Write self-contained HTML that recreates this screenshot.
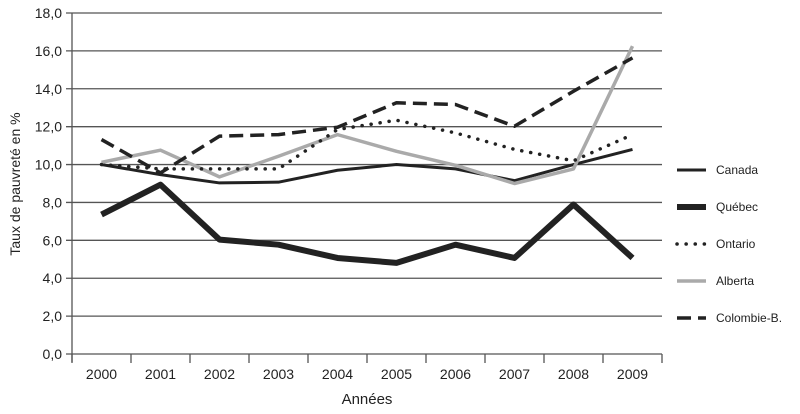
<!DOCTYPE html>
<html><head><meta charset="utf-8"><style>
body{margin:0;background:#fff;}
svg{display:block;font-family:"Liberation Sans",sans-serif;}
</style></head><body>
<svg id="chart" width="800" height="414" viewBox="0 0 800 414">
<g id="grid"></g>
<g id="yaxis"></g>
<g id="xaxis"></g>
<g id="series"></g>
<g id="legend"></g>
<text x="20" y="184" transform="rotate(-90 20 184)" text-anchor="middle" font-size="14" fill="#222">Taux de pauvreté en %</text>
<text x="367" y="404" text-anchor="middle" font-size="15" fill="#222">Années</text>
</svg>
<script>
const years=["2000","2001","2002","2003","2004","2005","2006","2007","2008","2009"];
const yTicks=[0,2,4,6,8,10,12,14,16,18];
const canada=[10.0,9.47,9.03,9.07,9.7,10.0,9.77,9.15,10.0,10.8];
const quebec=[7.36,8.94,6.04,5.77,5.07,4.81,5.77,5.07,7.89,5.07];
const ontario=[10.0,9.77,9.77,9.77,11.85,12.34,11.67,10.8,10.2,11.58];
const alberta=[10.12,10.76,9.35,10.44,11.58,10.7,9.96,9.0,9.77,16.25];
const colombie=[11.32,9.56,11.5,11.58,11.97,13.26,13.17,12.02,13.87,15.63];
const seriesNames=["Canada","Québec","Ontario","Alberta","Colombie-B."];
const NS="http://www.w3.org/2000/svg";
const X0=72,X1=662,Y0=354,Y1=13,YMAX=18;
const cw=(X1-X0)/years.length;
const xs=i=>X0+cw*(i+0.5);
const ys=v=>Y0-(v/YMAX)*(Y0-Y1);
function mk(t,a,p){const e=document.createElementNS(NS,t);for(const k in a)e.setAttribute(k,a[k]);p.appendChild(e);return e;}
const grid=document.getElementById('grid'),ya=document.getElementById('yaxis'),xa=document.getElementById('xaxis'),sg=document.getElementById('series'),lg=document.getElementById('legend');
yTicks.forEach(v=>{
  const l=mk('line',{x1:X0-6,x2:X1,y1:ys(v),y2:ys(v),stroke:'#555','stroke-width':1.3},grid);
  
  
  const t=mk('text',{x:62,y:ys(v)+5,'text-anchor':'end','font-size':14,fill:'#222'},ya);
  t.textContent=v.toFixed(1).replace('.',',');
  
  
});
const ax=mk('line',{x1:X0,x2:X0,y1:Y1,y2:Y0+8,stroke:'#555','stroke-width':1.3},ya);


for(let i=0;i<=years.length;i++){
  const t=mk('line',{x1:X0+cw*i,x2:X0+cw*i,y1:Y0,y2:Y0+9,stroke:'#555','stroke-width':1.3},xa);
  
  
}
years.forEach((y,i)=>{
  const t=mk('text',{x:xs(i),y:379,'text-anchor':'middle','font-size':14,fill:'#222'},xa);
  t.textContent=y;
  
  
});
const styles=[
 {d:canada,c:'#222',w:3,da:'',lc:'butt'},
 {d:quebec,c:'#222',w:6,da:'',lc:'butt'},
 {d:ontario,c:'#222',w:3.5,da:'0.1 9',lc:'round'},
 {d:alberta,c:'#aaa',w:3.5,da:'',lc:'butt'},
 {d:colombie,c:'#222',w:3.5,da:'14 7',lc:'butt'}
];
const order=[0,1,3,2,4];
order.forEach(k=>{
  const s=styles[k];
  const p=mk('polyline',{points:s.d.map((v,i)=>xs(i)+','+ys(v)).join(' '),fill:'none',stroke:s.c,'stroke-width':s.w,'stroke-dasharray':s.da,'stroke-linecap':s.lc,'stroke-linejoin':'round'},sg);
  
  
});
seriesNames.forEach((n,k)=>{
  const s=styles[k],y=170+37*k;
  const g=mk('g',{},lg);
  
  
  mk('line',{x1:677,x2:706,y1:y,y2:y,stroke:s.c,'stroke-width':s.w,'stroke-dasharray':s.da,'stroke-linecap':s.lc},g);
  const t=mk('text',{x:716,y:y+4,'font-size':12,fill:'#222'},g);
  t.textContent=n;
});
</script>
</body></html>
